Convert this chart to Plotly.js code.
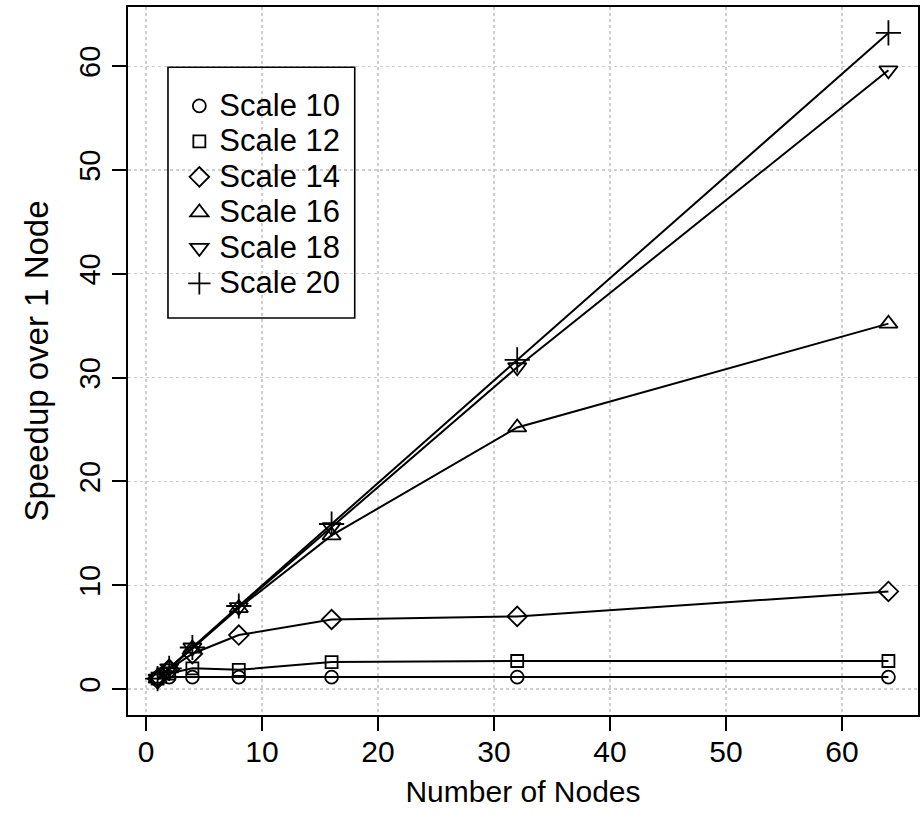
<!DOCTYPE html>
<html>
<head>
<meta charset="utf-8">
<script src="https://cdn.plot.ly/plotly-3.0.1.min.js"></script>
<style>html,body{margin:0;padding:0;background:#fff;}#chart{width:922px;height:823px;}</style>
</head>
<body>
<div id="chart"></div>
<script>
const nodes = [1, 2, 4, 8, 16, 32, 64];
const seriesNames = ["Scale 10", "Scale 12", "Scale 14", "Scale 16", "Scale 18", "Scale 20"];
const scale10 = [1.0, 1.15, 1.15, 1.15, 1.15, 1.15, 1.15];
const scale12 = [1.0, 1.5, 2.0, 1.85, 2.6, 2.7, 2.7];
const scale14 = [1.0, 1.9, 3.4, 5.2, 6.7, 7.0, 9.4];
const scale16 = [1.0, 2.0, 3.9, 7.8, 14.8, 25.2, 35.2];
const scale18 = [1.0, 2.0, 4.0, 7.9, 15.6, 31.0, 59.6];
const scale20 = [1.0, 2.0, 4.0, 8.0, 15.9, 31.7, 63.2];
const xTicks = [0, 10, 20, 30, 40, 50, 60];
const yTicks = [0, 10, 20, 30, 40, 50, 60];

const allSeries = [scale10, scale12, scale14, scale16, scale18, scale20];
const symbols = ["circle-open", "square-open", "diamond-open", "triangle-up-open", "triangle-down-open", "cross-thin-open"];
const sizes = [13, 12, 15, 16, 16, 18];

const FONT = "Liberation Sans, Arial, Helvetica, sans-serif";
const traces = [];
allSeries.forEach((ys, i) => {
  traces.push({
    x: nodes, y: ys, mode: "lines", type: "scatter",
    line: {color: "black", width: 2},
    showlegend: false, hoverinfo: "skip"
  });
});
allSeries.forEach((ys, i) => {
  traces.push({
    x: nodes, y: ys, mode: "markers", type: "scatter",
    name: '<span style="font-size:31px">' + seriesNames[i] + '</span>', legendgroup: "g" + i,
    marker: {symbol: symbols[i], size: sizes[i], color: "black", line: {color: "black", width: 1.8}}
  });
});

const axisCommon = {
  showline: true, mirror: true, linecolor: "black", linewidth: 2,
  ticks: "outside", ticklen: 14, tickwidth: 2, tickcolor: "black",
  showgrid: true, gridcolor: "#cfcfcf", griddash: "dot", gridwidth: 1.3,
  zeroline: false,
  automargin: false
};

const layout = {
  width: 922, height: 823,
  margin: {l: 128, r: 4, t: 7, b: 108},
  paper_bgcolor: "white", plot_bgcolor: "white",
  font: {family: FONT, color: "black"},
  xaxis: Object.assign({}, axisCommon, {
    range: [-1.55, 66.55], tickmode: "array", tickvals: xTicks, ticktext: xTicks.map(String),
    tickfont: {family: FONT, size: 30, color: "black"},
    ticklabelstandoff: -5,
    title: {text: "Number of Nodes", font: {family: FONT, size: 30, color: "black"}, standoff: 14}
  }),
  yaxis: Object.assign({}, axisCommon, {
    range: [-2.5, 65.7], tickmode: "array", tickvals: yTicks, ticktext: yTicks.map(String),
    tickangle: -90,
    tickfont: {family: FONT, size: 29, color: "black"},
    title: {text: "Speedup over 1 Node", font: {family: FONT, size: 33, color: "black"}, standoff: 16}
  }),
  showlegend: true,
  legend: {
    x: 0.065, y: 0.8925, xanchor: "left", yanchor: "top",
    bgcolor: "rgba(0,0,0,0)", borderwidth: 0,
    font: {family: FONT, size: 25, color: "black"},
    tracegroupgap: 0, itemclick: false
  },
  shapes: [{
    type: "rect", xref: "paper", yref: "paper",
    x0: 0.0506, x1: 0.287, y0: 0.5607, y1: 0.915,
    line: {color: "black", width: 1.6}, fillcolor: "rgba(0,0,0,0)", layer: "above"
  }]
};

Plotly.newPlot("chart", traces, layout, {displayModeBar: false, staticPlot: true});
</script>
</body>
</html>
